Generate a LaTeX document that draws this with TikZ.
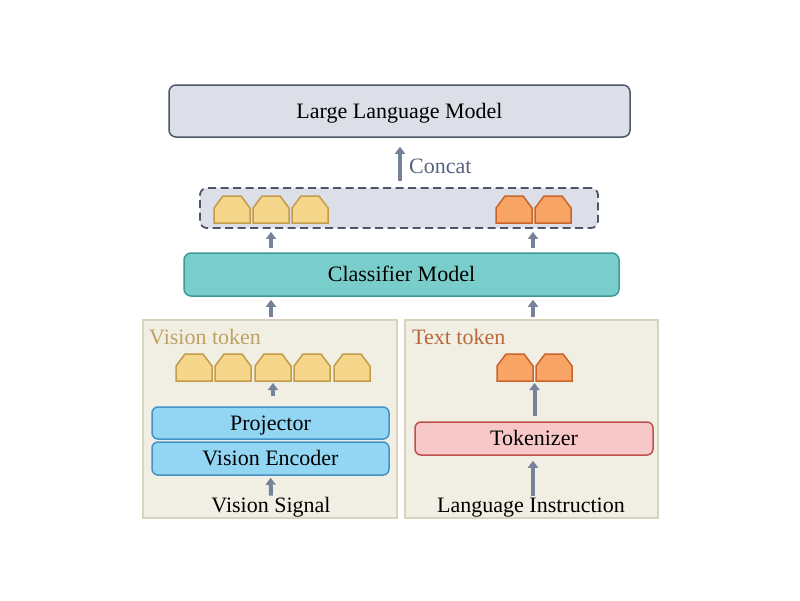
\documentclass[tikz,border=0pt]{standalone}
\usepackage{fontspec}
\setmainfont{Liberation Serif}
\usetikzlibrary{arrows.meta}
\definecolor{llmfill}{HTML}{DCDFE7}
\definecolor{slate}{HTML}{4D5669}
\definecolor{clsfill}{HTML}{79CDCA}
\definecolor{clsdraw}{HTML}{3C9B99}
\definecolor{panfill}{HTML}{F1EFE4}
\definecolor{pandraw}{HTML}{D8D3BC}
\definecolor{projfill}{HTML}{93D6F4}
\definecolor{projdraw}{HTML}{4292C6}
\definecolor{tokfill}{HTML}{F8C8C8}
\definecolor{tokdraw}{HTML}{C0504D}
\definecolor{yelfill}{HTML}{F6D68A}
\definecolor{yeldraw}{HTML}{C29C48}
\definecolor{orafill}{HTML}{F7A464}
\definecolor{oradraw}{HTML}{C8642C}
\definecolor{vislab}{HTML}{C0A062}
\definecolor{txtlab}{HTML}{B86A3A}
\definecolor{concatc}{HTML}{56637A}
\definecolor{arrowc}{HTML}{76829A}
\tikzset{
  base/.style={font=\fontsize{22}{26}\selectfont, inner sep=0pt},
  box/.style={base, rounded corners=7pt, line width=1.5pt, text height=14.6pt, text depth=0pt},
  llmbox/.style={box, draw=slate, fill=llmfill},
  dashbox/.style={box, draw=slate, fill=llmfill, line width=1.8pt, dash pattern=on 8pt off 4.5pt},
  clsbox/.style={box, draw=clsdraw, fill=clsfill},
  panel/.style={draw=pandraw, fill=panfill, line width=1.5pt},
  projbox/.style={box, rounded corners=6pt, draw=projdraw, fill=projfill},
  tkbox/.style={box, rounded corners=6pt, draw=tokdraw, fill=tokfill},
  txt/.style={base},
  flow/.style={draw=arrowc, line width=4pt, -{Triangle[width=10pt,length=7pt]}},
  yel/.style={fill=yelfill, draw=yeldraw, line width=1.5pt, line join=miter},
  ora/.style={fill=orafill, draw=oradraw, line width=1.5pt, line join=miter},
}
% \tokenshape{name}{x}{ybottom}{style}
\newcommand{\tokenshape}[4]{%
  \draw[#4] (#2,#3) -- (#2,#3-15) -- (#2+9,#3-27) -- (#2+27,#3-27) -- (#2+36,#3-15) -- (#2+36,#3) -- cycle;
  \coordinate (#1) at (#2+18,#3);
}
\begin{document}
\begin{tikzpicture}[x=1pt,y=-1pt]
\useasboundingbox (0,0) rectangle (800,600);
\fill[white] (0,0) rectangle (800,600);

% panels
\draw[panel] (143,320) rectangle (397,518);
\draw[panel] (405,320) rectangle (658,518);
\node[base, anchor=south, minimum width=254pt, minimum height=1pt] (lpanel) at (270,320) {};
\node[base, anchor=south, minimum width=253pt, minimum height=1pt] (rpanel) at (531.5,320) {};

% top boxes
\node[llmbox, minimum width=461pt, minimum height=52pt] (llm) at (399.5,111) {Large Language Model};
\node[dashbox, minimum width=398pt, minimum height=40pt] (cat) at (399,208) {};
\node[clsbox, minimum width=435pt, minimum height=43pt] (cls) at (401.5,274.5) {Classifier Model};

% concat tokens
\tokenshape{c1}{214}{223}{yel}
\tokenshape{c2}{253}{223}{yel}
\tokenshape{c3}{292}{223}{yel}
\tokenshape{c4}{496}{223}{ora}
\tokenshape{c5}{535}{223}{ora}

% labels
\node[txt, text=vislab, anchor=base west] (vtl) at (149,344) {Vision token};
\node[txt, text=txtlab, anchor=base west] (ttl) at (412,344) {Text token};

% vision tokens
\tokenshape{v1}{176}{381}{yel}
\tokenshape{v2}{215}{381}{yel}
\tokenshape{v3}{255}{381}{yel}
\tokenshape{v4}{294}{381}{yel}
\tokenshape{v5}{334}{381}{yel}
% text tokens
\tokenshape{t1}{497}{381}{ora}
\tokenshape{t2}{536}{381}{ora}
\coordinate (tmid) at (534.5,381);

% left stack
\node[projbox, minimum width=237pt, minimum height=32pt] (proj) at (270.5,423) {Projector};
\node[projbox, minimum width=237pt, minimum height=33pt] (venc) at (270.5,458.5) {Vision Encoder};
\node[txt, anchor=base] (vsig) at (271,512) {Vision Signal};

% right stack
\node[tkbox, minimum width=238pt, minimum height=33pt] (tknz) at (534,438.5) {Tokenizer};
\node[txt, anchor=base] (lins) at (531,512) {Language Instruction};

% concat label
\node[txt, text=concatc, anchor=base west] (concat) at (409,173) {Concat};

% arrows
\draw[flow, shorten <=6pt, shorten >=9pt] (cat.north -| 400,0) -- (llm.south -| 400,0);
\draw[flow, shorten <=4pt, shorten >=3pt] (cls.north -| 271,0) -- (cat.south -| 271,0);
\draw[flow, shorten <=4pt, shorten >=3pt] (cls.north -| 533,0) -- (cat.south -| 533,0);
\draw[flow, shorten <=2pt, shorten >=3pt] (lpanel.north -| 271,0) -- (cls.south -| 271,0);
\draw[flow, shorten <=2pt, shorten >=3pt] (rpanel.north -| 533,0) -- (cls.south -| 533,0);
\draw[flow, shorten <=10pt, shorten >=2pt] (proj.north -| v3) -- (v3);
\draw[flow, shorten <=5pt, shorten >=2pt] (tknz.north -| tmid) -- (tmid);
\draw[flow, shorten <=1pt, shorten >=2pt] (vsig.north) -- (venc.south);
\draw[flow, shorten <=1pt, shorten >=5pt] (lins.north -| 533,0) -- (tknz.south -| 533,0);
\end{tikzpicture}
\end{document}
